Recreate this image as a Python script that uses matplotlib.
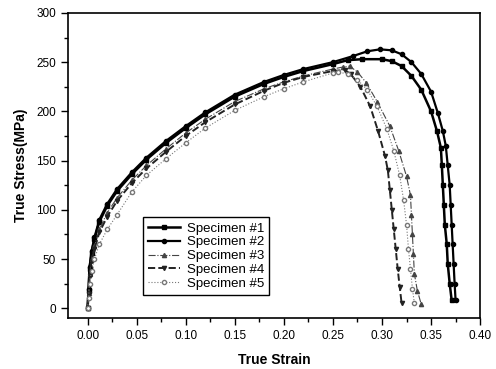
import matplotlib
matplotlib.use('Agg')
import matplotlib.pyplot as plt
from matplotlib.ticker import MultipleLocator

plt.rcParams['font.family'] = ['Liberation Sans', 'DejaVu Sans']

# specimen data (true strain, true stress MPa)
strain1 = [0, 0.001, 0.002, 0.004, 0.007, 0.012, 0.02, 0.03, 0.045, 0.06, 0.08, 0.10, 0.12, 0.15, 0.18, 0.20, 0.22, 0.25,
           0.265, 0.28, 0.30, 0.31, 0.32, 0.33, 0.34, 0.35, 0.356, 0.36, 0.361, 0.362, 0.363, 0.364, 0.366, 0.367, 0.369, 0.371]
stress1 = [0, 18, 40, 56, 70, 88, 104, 119, 136, 151, 168, 183, 197, 215, 228, 235, 241, 248,
           252, 253, 253, 251, 246, 236, 222, 200, 180, 163, 145, 125, 105, 85, 65, 45, 25, 8]

strain2 = [0, 0.001, 0.002, 0.004, 0.007, 0.012, 0.02, 0.03, 0.045, 0.06, 0.08, 0.10, 0.12, 0.15, 0.18, 0.20, 0.22, 0.25,
           0.27, 0.285, 0.298, 0.31, 0.32, 0.33, 0.34, 0.35, 0.357, 0.362, 0.365, 0.367, 0.369, 0.370, 0.371, 0.372, 0.373, 0.374, 0.375]
stress2 = [0, 20, 42, 58, 72, 90, 106, 121, 138, 153, 170, 185, 199, 217, 230, 237, 243, 250,
           256, 261, 263, 262, 258, 250, 238, 220, 198, 180, 165, 145, 125, 105, 85, 65, 45, 25, 8]

strain3 = [0, 0.001, 0.002, 0.004, 0.007, 0.012, 0.02, 0.03, 0.045, 0.06, 0.08, 0.10, 0.12, 0.15, 0.18, 0.20, 0.22, 0.25,
           0.26, 0.267, 0.275, 0.284, 0.295, 0.308, 0.317, 0.325, 0.329, 0.330, 0.331, 0.332, 0.333, 0.336, 0.340]
stress3 = [0, 15, 35, 50, 63, 80, 97, 112, 130, 145, 162, 178, 192, 210, 223, 230, 236, 243,
           245, 246, 240, 229, 210, 185, 160, 134, 115, 95, 75, 55, 35, 18, 4]

strain4 = [0, 0.001, 0.002, 0.004, 0.007, 0.012, 0.02, 0.03, 0.045, 0.06, 0.08, 0.10, 0.12, 0.15, 0.18, 0.20, 0.22, 0.25,
           0.262, 0.268, 0.278, 0.288, 0.296, 0.303, 0.306, 0.308, 0.310, 0.312, 0.314, 0.316, 0.318, 0.320]
stress4 = [0, 14, 33, 48, 60, 77, 93, 109, 127, 142, 159, 175, 189, 207, 221, 229, 235, 241,
           242, 238, 225, 205, 180, 155, 140, 120, 100, 80, 60, 40, 22, 5]

strain5 = [0, 0.001, 0.002, 0.004, 0.007, 0.012, 0.02, 0.03, 0.045, 0.06, 0.08, 0.10, 0.12, 0.15, 0.18, 0.20, 0.22, 0.25,
           0.255, 0.265, 0.275, 0.285, 0.295, 0.305, 0.312, 0.318, 0.322, 0.325, 0.327, 0.329, 0.331, 0.333]
stress5 = [0, 10, 25, 38, 50, 65, 80, 95, 118, 135, 152, 168, 183, 201, 215, 223, 230, 239,
           240, 238, 232, 222, 205, 182, 160, 135, 110, 85, 60, 40, 20, 5]

labels = ['Specimen #1', 'Specimen #2', 'Specimen #3', 'Specimen #4', 'Specimen #5']

fig = plt.figure(figsize=(4.96, 3.69), dpi=100)
ax = fig.add_axes([0.137, 0.138, 0.831, 0.827])

ax.plot(strain1, stress1, color='black', ls='-', lw=1.8, marker='s', ms=3, label=labels[0])
ax.plot(strain2, stress2, color='black', ls='-', lw=1.6, marker='o', ms=3, label=labels[1])
ax.plot(strain3, stress3, color='#444444', ls='-.', lw=0.8, marker='^', ms=3, label=labels[2])
ax.plot(strain4, stress4, color='#222222', ls='--', lw=1.4, marker='v', ms=3, label=labels[3])
ax.plot(strain5, stress5, color='#777777', ls=':', lw=0.8, marker='o', ms=3, mfc='white', label=labels[4])

ax.set_xlim(-0.02, 0.40)
ax.set_ylim(-10, 300)
ax.xaxis.set_minor_locator(MultipleLocator(0.025))
ax.yaxis.set_major_locator(MultipleLocator(50))
ax.yaxis.set_minor_locator(MultipleLocator(25))
ax.set_xticks([0, 0.05, 0.10, 0.15, 0.20, 0.25, 0.30, 0.35, 0.40])
ax.set_xticklabels(['0.00', '0.05', '0.10', '0.15', '0.20', '0.25', '0.30', '0.35', '0.40'])
ax.tick_params(which='major', direction='out', length=5, width=1, labelsize=8.5)
ax.tick_params(which='minor', direction='out', length=3, width=1)
for s in ax.spines.values():
    s.set_linewidth(1.2)

ax.set_xlabel('True Strain', fontsize=10, fontweight='bold', labelpad=8)
ax.set_ylabel('True Stress(MPa)', fontsize=10, fontweight='bold', labelpad=6)

leg = ax.legend(loc='lower left', bbox_to_anchor=(0.182, 0.075), borderaxespad=0,
                fancybox=False, edgecolor='black', framealpha=1, fontsize=9.5,
                handlelength=2.4, labelspacing=0.12, borderpad=0.4, handletextpad=0.5)
leg.get_frame().set_linewidth(1.0)

fig.savefig('out.png', dpi=100)
